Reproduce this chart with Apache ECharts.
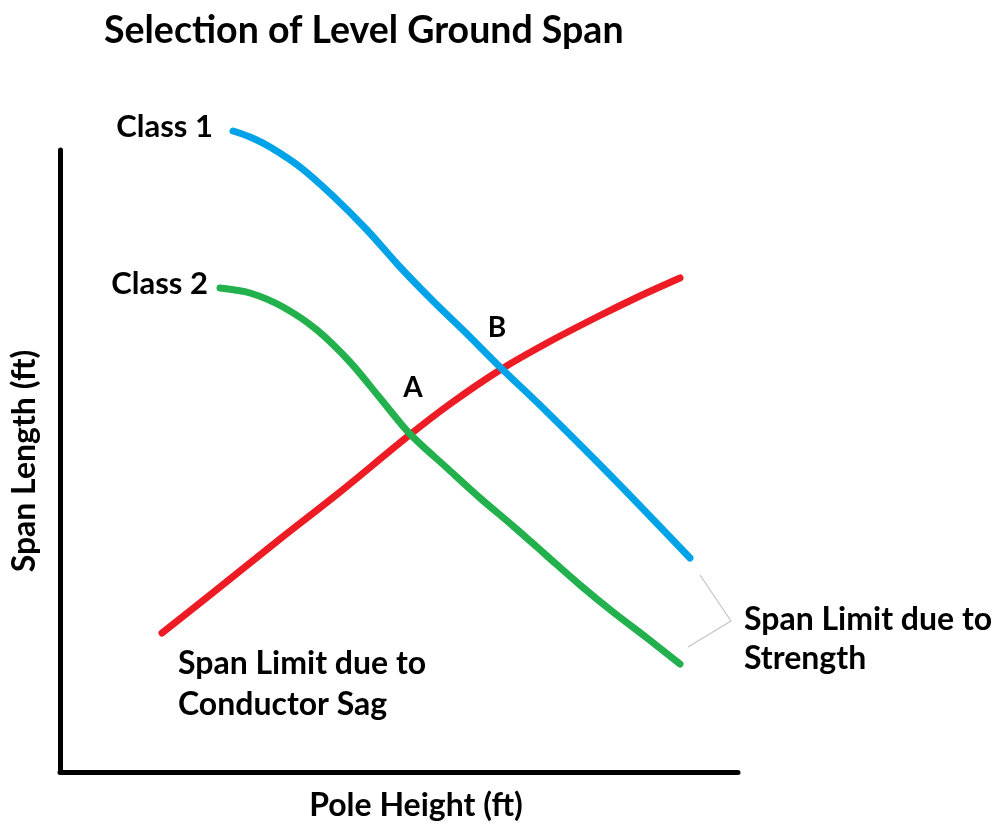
<!DOCTYPE html>
<html lang="en">

<head>
  <meta charset="UTF-8">
  <title>Selection of Level Ground Span</title>
  <script src="https://cdn.jsdelivr.net/npm/echarts@6.0.0/dist/echarts.min.js"></script>
  <style>
    body { margin: 0; background: #fff; }
  </style>
</head>

<body>
  <div id="main" style="width: 1007px;height:827px;"></div>

  <script type="text/javascript">
    // Curve values (arbitrary units, no tick labels in the original)
    const class1X = [173, 190, 210, 240, 273, 307, 340, 373, 407, 440, 487, 553, 630];
    const class1Y = [641, 635, 625, 605, 576, 542, 505, 471, 438, 405, 360, 294, 214];

    const class2X = [160, 190, 223, 257, 290, 320, 350, 387, 420, 453, 487, 520, 553, 587, 620];
    const class2Y = [484, 479, 465, 442, 410, 374, 338, 304, 274, 246, 216, 187, 160, 134, 108];

    const sagX = [102, 160, 220, 280, 347, 390, 440, 487, 537, 580, 620];
    const sagY = [139, 185, 233, 280, 335, 368, 402, 429, 455, 476, 494];

    // leader lines pointing at the strength curves
    const leaderX = [640, 671, 628];
    const leaderY = [197, 151, 125];

    // intersection labels
    const pointNames = ['A', 'B'];
    const pointX = [353, 437];
    const pointY = [384, 444];

    const font = 'Lato, "Open Sans", sans-serif';
    const zip = (xs, ys) => xs.map((x, i) => [x, ys[i]]);

    let myChart = echarts.init(document.getElementById('main'));

    const curve = (name, data, color) => ({
      name: name,
      type: 'line',
      data: data,
      smooth: 0.3,
      symbol: 'none',
      clip: false,
      lineStyle: { color: color, width: 7, cap: 'round' },
      z: 3
    });

    const textStyle = (size) => ({
      color: '#000', fontFamily: font, fontWeight: 'bold', fontSize: size
    });

    const options = {
      animation: false,
      title: {
        text: 'Selection of Level Ground Span',
        left: 99,
        top: 7,
        textStyle: textStyle(37.5)
      },
      grid: { left: 60, top: 150, right: 269, bottom: 55, outerBoundsMode: 'none', containLabel: false },
      xAxis: {
        type: 'value',
        min: 0,
        max: 678,
        name: 'Pole Height (ft)',
        nameLocation: 'middle',
        nameGap: 18,
        nameTextStyle: Object.assign(textStyle(32), { padding: [0, 0, 0, 34] }),
        axisLine: { lineStyle: { color: '#000', width: 5 } },
        axisTick: { show: false },
        axisLabel: { show: false },
        splitLine: { show: false }
      },
      yAxis: {
        type: 'value',
        min: 0,
        max: 622,
        name: 'Span Length (ft)',
        nameLocation: 'middle',
        nameGap: 19,
        nameTextStyle: textStyle(32),
        axisLine: { show: true, lineStyle: { color: '#000', width: 5 } },
        axisTick: { show: false },
        axisLabel: { show: false },
        splitLine: { show: false }
      },
      series: [
        curve('Span Limit due to Conductor Sag', zip(sagX, sagY), '#ed1c24'),
        curve('Class 2', zip(class2X, class2Y), '#22b14c'),
        curve('Class 1', zip(class1X, class1Y), '#00a2e8'),
        {
          name: 'leader',
          type: 'line',
          data: zip(leaderX, leaderY),
          symbol: 'none',
          clip: false,
          lineStyle: { color: '#c3c3c3', width: 1.2 },
          z: 2
        },
        {
          // curve names written at the start of each strength curve
          name: 'class labels',
          type: 'scatter',
          clip: false,
          symbolSize: 0,
          itemStyle: { opacity: 1 },
          data: [
            { value: [class1X[0], class1Y[0]], name: 'Class 1', label: { distance: 20 } },
            { value: [class2X[0], class2Y[0]], name: 'Class 2', label: { distance: 12 } }
          ],
          label: Object.assign(textStyle(31), {
            show: true, position: 'left', formatter: '{b}', offset: [0, -4]
          })
        },
        {
          name: 'points',
          type: 'scatter',
          data: zip(pointX, pointY).map((p, i) => ({ value: p, name: pointNames[i] })),
          symbolSize: 0,
          itemStyle: { opacity: 1 },
          label: Object.assign(textStyle(28), {
            show: true, position: 'inside', formatter: '{b}'
          })
        }
      ],
      graphic: [
        {
          type: 'text', left: 744, top: 600,
          style: {
            text: 'Span Limit due to\nStrength', fill: '#000', lineHeight: 39,
            font: 'bold 32px ' + font
          }
        },
        {
          type: 'text', left: 178, top: 643,
          style: {
            text: 'Span Limit due to\nConductor Sag', fill: '#000', lineHeight: 41,
            font: 'bold 32px ' + font
          }
        }
      ]
    };

    myChart.setOption(options);
  </script>
</body>

</html>
